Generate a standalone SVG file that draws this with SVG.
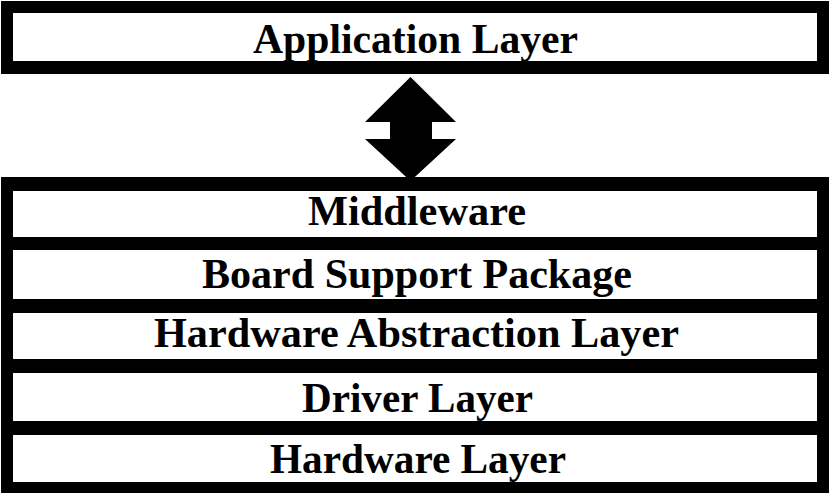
<svg xmlns="http://www.w3.org/2000/svg" width="831" height="495" viewBox="0 0 831 495">
  <style>
    .frame { fill: #000000; }
    .layer { fill: #ffffff; }
    .label { font-family: "Liberation Serif", "Times New Roman", serif; font-weight: bold; font-size: 42px; fill: #000000; text-anchor: middle; }
    .arrow { fill: #000000; }
  </style>
  <rect width="831" height="495" fill="#ffffff"/>
  <g id="app-frame">
    <rect class="frame" x="1" y="1" width="828" height="73"/>
  </g>
  <g id="application-layer">
    <rect class="layer" x="13" y="13" width="804" height="48"/>
    <text class="label" x="415.5" y="53" textLength="325" lengthAdjust="spacingAndGlyphs" font-size="44">Application Layer</text>
  </g>
  <g id="stack-frame">
    <rect class="frame" x="1" y="177" width="828" height="316"/>
  </g>
  <g id="middleware">
    <rect class="layer" x="13" y="191" width="804" height="46"/>
    <text class="label" x="417" y="225" textLength="218" lengthAdjust="spacingAndGlyphs" font-size="40">Middleware</text>
  </g>
  <g id="board-support-package">
    <rect class="layer" x="13" y="250" width="804" height="49"/>
    <text class="label" x="417" y="288" textLength="430" lengthAdjust="spacingAndGlyphs">Board Support Package</text>
  </g>
  <g id="hardware-abstraction-layer">
    <rect class="layer" x="13" y="313" width="804" height="46"/>
    <text class="label" x="416.5" y="347" textLength="525" lengthAdjust="spacingAndGlyphs" font-size="39">Hardware Abstraction Layer</text>
  </g>
  <g id="driver-layer">
    <rect class="layer" x="13" y="373" width="804" height="48"/>
    <text class="label" x="417.5" y="412" textLength="231" lengthAdjust="spacingAndGlyphs" font-size="43">Driver Layer</text>
  </g>
  <g id="hardware-layer">
    <rect class="layer" x="13" y="435" width="804" height="47"/>
    <text class="label" x="418" y="473" textLength="296" lengthAdjust="spacingAndGlyphs" font-size="43">Hardware Layer</text>
  </g>
  <g id="connectors">
    <polygon class="arrow" points="410.5,77 456,122 432,122 432,139 456,139 410.5,181 365,139 390,139 390,122 365,122"/>
  </g>
</svg>
